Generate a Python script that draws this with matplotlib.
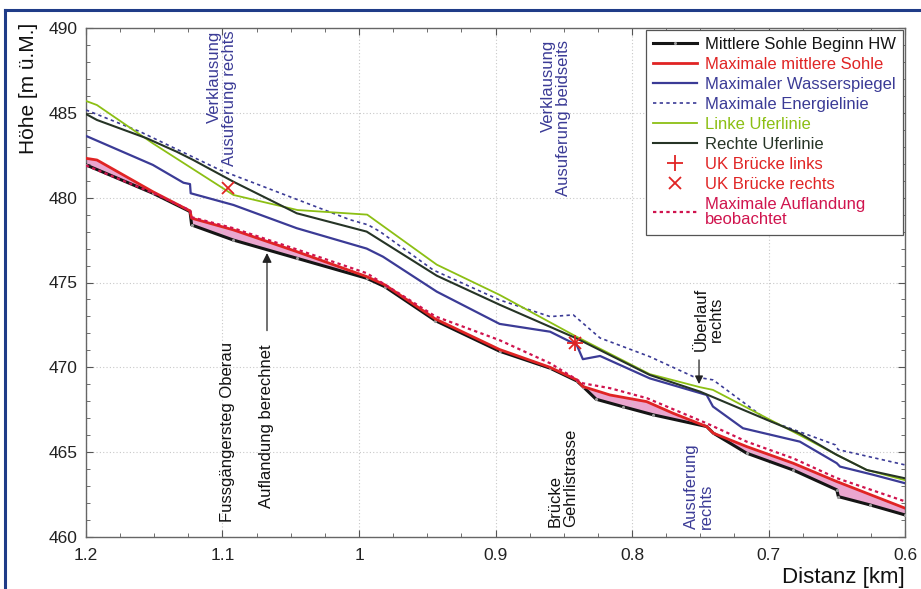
import matplotlib
matplotlib.use("Agg")
import matplotlib.pyplot as plt
from matplotlib.lines import Line2D
from matplotlib.ticker import MultipleLocator
import numpy as np

plt.rcParams['font.family'] = ['Liberation Sans', 'DejaVu Sans']

# ---------------- data ----------------
x_bed = [1.2, 1.151, 1.1238, 1.1226, 1.092, 1.0456, 0.9944, 0.981, 0.944, 0.897, 0.86,
         0.8405, 0.836, 0.8263, 0.8066, 0.7844, 0.7453, 0.7404, 0.716, 0.682, 0.650,
         0.6488, 0.6256, 0.6]
y_bed = [481.93, 480.26, 479.18, 478.39, 477.5, 476.43, 475.25, 474.75, 472.75, 470.95, 469.95,
         469.2, 468.87, 468.12, 467.68, 467.2, 466.51, 466.12, 464.94, 463.95, 462.78,
         462.38, 461.89, 461.3]

x_red = [1.2, 1.192, 1.151, 1.1238, 1.1226, 1.092, 1.0456, 0.9944, 0.981, 0.944, 0.897,
         0.86, 0.8405, 0.836, 0.8161, 0.7893, 0.7698, 0.7453, 0.7404, 0.716, 0.682, 0.650, 0.6]
y_red = [482.32, 482.22, 480.35, 479.22, 478.79, 478.1, 476.82, 475.35, 474.86, 472.85, 471.05,
         470.0, 469.26, 468.87, 468.37, 467.98, 467.29, 466.51, 466.12, 465.33, 464.35, 463.27, 461.7]

x_obs = [1.2, 1.151, 1.1238, 1.1226, 1.092, 1.0456, 0.9944, 0.963, 0.944, 0.897, 0.86,
         0.836, 0.816, 0.789, 0.7453, 0.716, 0.682, 0.650, 0.6]
y_obs = [481.9, 480.28, 479.25, 478.85, 478.2, 476.95, 475.55, 473.97, 473.0, 471.6, 470.24,
         469.06, 468.77, 468.18, 466.7, 465.62, 464.64, 463.47, 462.1]

x_ws = [1.2, 1.151, 1.1286, 1.1238, 1.1233, 1.092, 1.0456, 0.9944, 0.9824, 0.943, 0.897,
        0.86, 0.8405, 0.836, 0.8234, 0.787, 0.7453, 0.7407, 0.7187, 0.677, 0.650, 0.6476,
        0.623, 0.6]
y_ws = [483.64, 481.93, 480.88, 480.8, 480.26, 479.57, 478.2, 477.0, 476.52, 474.46, 472.56,
        472.1, 471.32, 470.48, 470.67, 469.35, 468.37, 467.69, 466.41, 465.62, 464.35, 464.15,
        463.66, 463.17]

x_en = [1.2, 1.1604, 1.1018, 1.0066, 0.9934, 0.9846, 0.9457, 0.897, 0.86, 0.843, 0.8234,
        0.787, 0.755, 0.7406, 0.701, 0.651, 0.649, 0.6]
y_en = [485.17, 483.89, 481.63, 478.7, 478.4, 478.0, 475.74, 473.97, 472.99, 473.09, 471.73,
        470.63, 469.45, 469.26, 466.9, 465.43, 465.15, 464.25]

x_left = [1.2, 1.192, 1.151, 1.092, 1.045, 0.994, 0.943, 0.897, 0.8405, 0.787, 0.7502,
          0.7407, 0.701, 0.677, 0.6526, 0.628, 0.6]
y_left = [485.7, 485.46, 483.2, 480.16, 479.27, 479.0, 476.05, 474.27, 471.8, 469.6, 468.83,
          468.67, 467.0, 466.0, 464.95, 463.95, 463.35]

x_right = [1.2, 1.192, 1.1555, 1.1336, 1.1214, 1.092, 1.0456, 0.9944, 0.943, 0.8967, 0.8405,
           0.787, 0.7502, 0.701, 0.677, 0.650, 0.628, 0.6]
y_right = [484.93, 484.58, 483.5, 482.71, 482.22, 480.94, 479.08, 478.0, 475.4, 473.68, 471.7,
           469.55, 468.57, 466.9, 466.1, 464.84, 463.95, 463.46]

x_uk_links = [0.842]
y_uk_links = [471.42]
x_uk_rechts = [1.096, 0.842]
y_uk_rechts = [480.55, 471.42]

labels = ["Mittlere Sohle Beginn HW", "Maximale mittlere Sohle", "Maximaler Wasserspiegel",
          "Maximale Energielinie", "Linke Uferlinie", "Rechte Uferlinie",
          "UK Brücke links", "UK Brücke rechts", "Maximale Auflandung\nbeobachtet"]

# ---------------- colours ----------------
c_bed = '#151515'
c_red = '#e02424'
c_blue = '#3b3b96'
c_green = '#8cbf14'
c_rb = '#263426'
c_obs = '#d0144e'
c_fill = '#eaa6cf'

fig = plt.figure(figsize=(9.21, 5.89), dpi=100)
ax = fig.add_axes([86/921, 1-537/589, (905-86)/921, (537-28)/589])

# fill between max sohle and bed
xs = np.linspace(1.2, 0.6, 1201)
yb = np.interp(xs, x_bed[::-1], y_bed[::-1])
yr = np.interp(xs, x_red[::-1], y_red[::-1])
ax.fill_between(xs, yb, yr, where=yr >= yb, color=c_fill, lw=0, zorder=1)

h1, = ax.plot(x_bed, y_bed, color=c_bed, lw=2.2, marker='.', ms=2.5, mfc='#999999',
              mec='#999999', zorder=4)
h2, = ax.plot(x_red, y_red, color=c_red, lw=2.0, zorder=5)
h3, = ax.plot(x_ws, y_ws, color=c_blue, lw=1.6, zorder=4)
h4, = ax.plot(x_en, y_en, color=c_blue, lw=1.2, ls=(0, (2, 2)), zorder=4)
h5, = ax.plot(x_left, y_left, color=c_green, lw=1.3, zorder=4)
h6, = ax.plot(x_right, y_right, color=c_rb, lw=1.5, zorder=4)
h7, = ax.plot(x_uk_links, y_uk_links, ls='none', marker='+', ms=11, mew=1.3, color=c_red, zorder=6)
h8, = ax.plot(x_uk_rechts, y_uk_rechts, ls='none', marker='x', ms=9, mew=1.3, color=c_red, zorder=6)
h9, = ax.plot(x_obs, y_obs, color=c_obs, lw=1.6, ls=(0, (1.5, 1.5)), zorder=6)

ax.set_xlim(1.2, 0.6)
ax.set_ylim(460, 490)
ax.xaxis.set_minor_locator(MultipleLocator(0.025))
ax.yaxis.set_major_locator(MultipleLocator(5))
ax.yaxis.set_minor_locator(MultipleLocator(1))
ax.set_xticks([1.2, 1.1, 1.0, 0.9, 0.8, 0.7, 0.6])
ax.set_xticklabels(['1.2', '1.1', '1', '0.9', '0.8', '0.7', '0.6'])
ax.tick_params(which='both', direction='in', top=True, right=True, colors='#555555',
               labelcolor='#222222', labelsize=12.5)
ax.tick_params(which='major', length=5)
ax.tick_params(which='minor', length=3)
ax.tick_params(axis='x', pad=8)
ax.tick_params(axis='y', pad=6)
ax.grid(True, which='major', color='#c8c8c8', ls=(0, (1, 2)), lw=0.8)
for s in ax.spines.values():
    s.set_color('#666666')
    s.set_linewidth(1.0)

fig.text(28/921, 1-23/589, "Höhe [m ü.M.]", rotation=90, ha='center', va='top',
         fontsize=15, color='#111111')
fig.text(905/921, 1-583/589, "Distanz [km]", ha='right', va='baseline', fontsize=16,
         color='#111111')

# annotations
ax.text(1.1004, 489.85, "Verklausung\nAusuferung rechts", rotation=90, ha='center', va='top',
        multialignment='right', fontsize=12, color=c_blue, linespacing=1.0)
ax.text(0.8557, 489.3, "Verklausung\nAusuferung beidseits", rotation=90, ha='center', va='top',
        multialignment='right', fontsize=12, color=c_blue, linespacing=1.0)
ax.text(1.0967, 460.9, "Fussgängersteg Oberau", rotation=90, ha='center', va='bottom',
        fontsize=12, color='#111111')
ax.text(1.0674, 461.7, "Auflandung berechnet", rotation=90, ha='center', va='bottom',
        fontsize=12, color='#111111')
ax.text(0.8505, 460.6, "Brücke\nGehrlistrasse", rotation=90, ha='center', va='bottom',
        multialignment='left', fontsize=12, color='#111111', linespacing=1.0)
ax.text(0.7509, 460.5, "Ausuferung\nrechts", rotation=90, ha='center', va='bottom',
        multialignment='left', fontsize=12, color=c_blue, linespacing=1.0)
ax.text(0.7436, 472.85, "Überlauf\nrechts", rotation=90, ha='center', va='center',
        multialignment='center', fontsize=12, color='#111111', linespacing=1.0)

ax.annotate("", xy=(1.0674, 476.9), xytext=(1.0674, 472.0),
            arrowprops=dict(arrowstyle='-|>', color='#222222', lw=0.9, mutation_scale=14),
            zorder=7)
ax.annotate("", xy=(0.7509, 468.85), xytext=(0.7509, 470.6),
            arrowprops=dict(arrowstyle='-|>', color='#222222', lw=0.9, mutation_scale=12),
            zorder=7)

leg = ax.legend([h1, h2, h3, h4, h5, h6, h7, h8, h9], labels, loc='upper right',
                fontsize=12, frameon=True, fancybox=False, framealpha=1,
                edgecolor='#555555', borderaxespad=0.1, handlelength=2.6,
                handletextpad=0.5, labelspacing=0.3, borderpad=0.45)
leg.get_frame().set_linewidth(0.9)
text_colors = [c_bed, c_red, c_blue, c_blue, c_green, c_rb, c_red, c_red, c_obs]
for t, c in zip(leg.get_texts(), text_colors):
    t.set_color(c)
    t.set_linespacing(1.0)
leg.set_zorder(10)

# blue figure frame (left and top)
fig.add_artist(Line2D([5/921, 5/921], [0, 1-10/589], color='#1f3c88', lw=2.2,
                      transform=fig.transFigure))
fig.add_artist(Line2D([5/921, 1], [1-10/589, 1-10/589], color='#1f3c88', lw=2.2,
                      transform=fig.transFigure))

fig.savefig("out.png", dpi=100)
